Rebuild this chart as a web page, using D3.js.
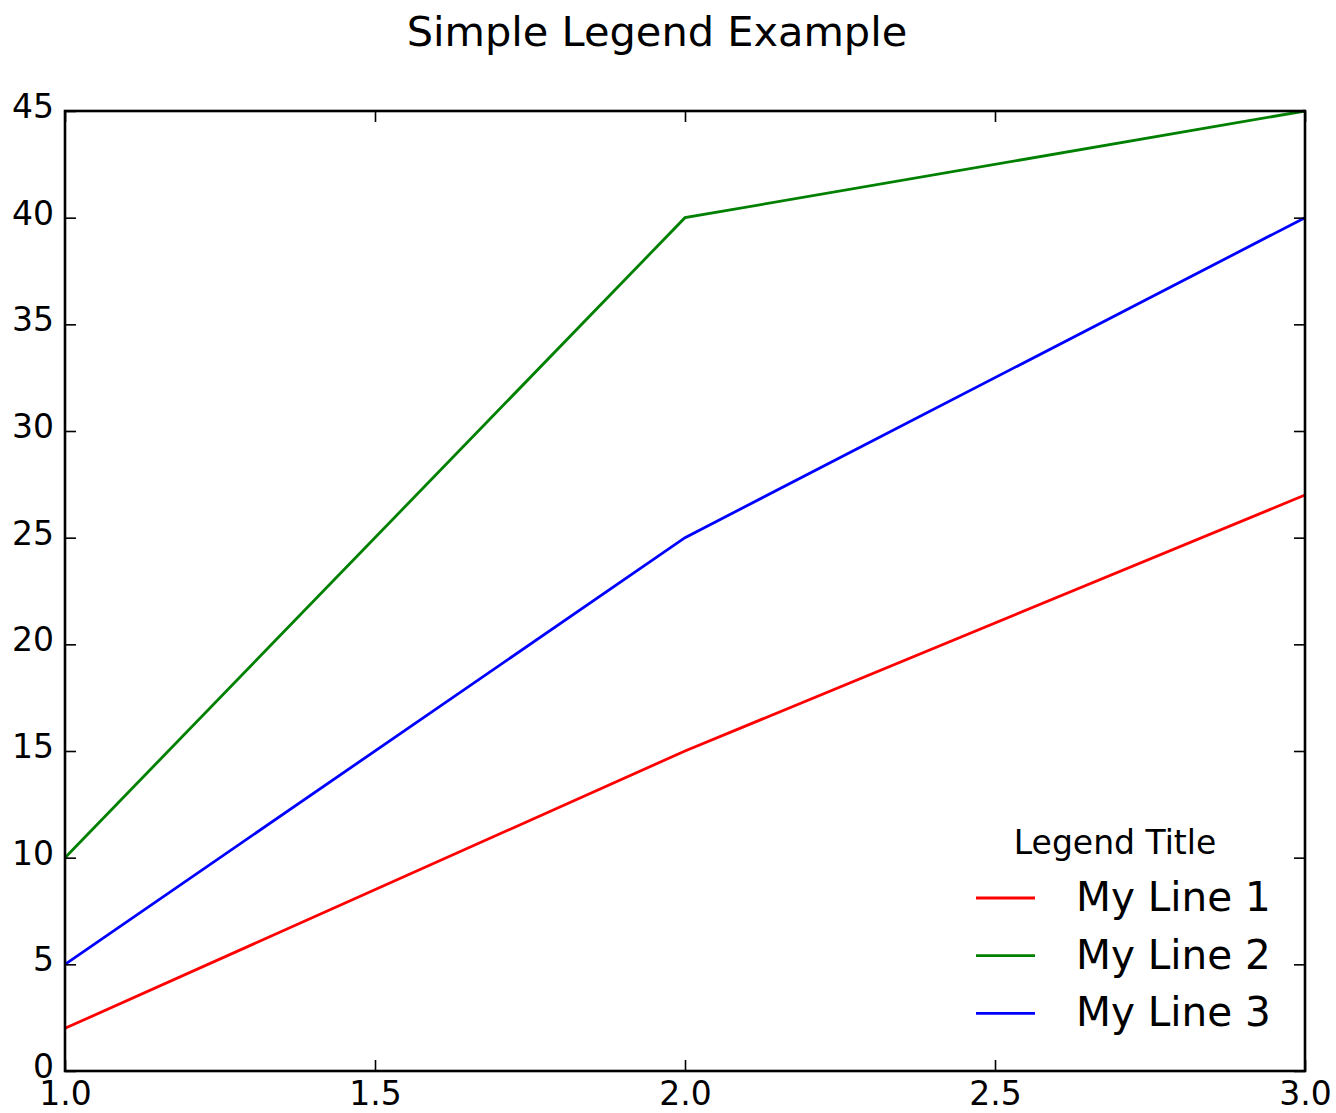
<!DOCTYPE html>
<html>
<head>
<meta charset="utf-8">
<script src="https://cdn.jsdelivr.net/npm/d3@7"></script>
<style>
  html, body { margin: 0; padding: 0; background: #ffffff; }
  svg { display: block; font-family: "DejaVu Sans", sans-serif; }
</style>
</head>
<body>
<svg id="chart" width="1336" height="1113"></svg>
<script>
// Series data
const xValues = [1, 2, 3];
const seriesNames = ["My Line 1", "My Line 2", "My Line 3"];
const seriesColors = ["#ff0000", "#008000", "#0000ff"];
const line1 = [2, 15, 27];
const line2 = [10, 40, 45];
const line3 = [5, 25, 40];
const seriesValues = [line1, line2, line3];

// Axis ticks
const xTicks = [1.0, 1.5, 2.0, 2.5, 3.0];
const yTicks = [0, 5, 10, 15, 20, 25, 30, 35, 40, 45];

const titleText = "Simple Legend Example";
const legendTitle = "Legend Title";

const svg = d3.select("#chart");
const plot = { left: 65, right: 1305, top: 111, bottom: 1071 };

const x = d3.scaleLinear().domain([1, 3]).range([plot.left, plot.right]);
const y = d3.scaleLinear().domain([0, 45]).range([plot.bottom, plot.top]);

const tickLen = 11;
const lw = 2.8;

// Title
svg.append("text")
  .attr("x", 657).attr("y", 46)
  .attr("text-anchor", "middle")
  .attr("font-size", 41.5)
  .attr("fill", "#000")
  .text(titleText);

// Series lines
const lineGen = d3.line().x((d, i) => x(xValues[i])).y(d => y(d));
seriesValues.forEach((vals, k) => {
  svg.append("path")
    .datum(vals)
    .attr("d", lineGen)
    .attr("fill", "none")
    .attr("stroke", seriesColors[k])
    .attr("stroke-width", lw)
    .attr("stroke-linejoin", "miter");
});

// Axes with inward ticks on all four sides
function styleAxis(g) {
  g.select(".domain").remove();
  g.selectAll(".tick line").attr("stroke", "#000").attr("stroke-width", 1.6);
  g.selectAll(".tick text").attr("fill", "#000").attr("font-size", 33);
  g.attr("font-family", null);
}

svg.append("g")
  .attr("transform", `translate(0,${plot.bottom})`)
  .call(d3.axisBottom(x).tickValues(xTicks).tickFormat(d3.format(".1f"))
    .tickSizeInner(-tickLen).tickSizeOuter(0).tickPadding(11))
  .call(styleAxis);

svg.append("g")
  .attr("transform", `translate(0,${plot.top})`)
  .call(d3.axisTop(x).tickValues(xTicks).tickFormat("")
    .tickSizeInner(-tickLen).tickSizeOuter(0))
  .call(styleAxis);

svg.append("g")
  .attr("transform", `translate(${plot.left},0)`)
  .call(d3.axisLeft(y).tickValues(yTicks).tickFormat(d3.format("d"))
    .tickSizeInner(-tickLen).tickSizeOuter(0).tickPadding(11))
  .call(styleAxis)
  .call(g => g.selectAll(".tick text").attr("dy", "0.2em"));

svg.append("g")
  .attr("transform", `translate(${plot.right},0)`)
  .call(d3.axisRight(y).tickValues(yTicks).tickFormat("")
    .tickSizeInner(-tickLen).tickSizeOuter(0))
  .call(styleAxis);

// Frame
svg.append("rect")
  .attr("x", plot.left).attr("y", plot.top)
  .attr("width", plot.right - plot.left)
  .attr("height", plot.bottom - plot.top)
  .attr("fill", "none")
  .attr("stroke", "#000")
  .attr("stroke-width", 2.6);

// Legend (no frame)
const legend = svg.append("g").attr("transform", "translate(976,0)");
legend.append("text")
  .attr("x", 139).attr("y", 854)
  .attr("text-anchor", "middle")
  .attr("font-size", 33)
  .attr("fill", "#000")
  .text(legendTitle);

const rowY0 = 898, rowStep = 57.7;
seriesNames.forEach((name, k) => {
  const ry = rowY0 + k * rowStep;
  legend.append("line")
    .attr("x1", 0).attr("x2", 59)
    .attr("y1", ry).attr("y2", ry)
    .attr("stroke", seriesColors[k])
    .attr("stroke-width", lw);
  legend.append("text")
    .attr("x", 100).attr("y", ry + 13)
    .attr("font-size", 40.5)
    .attr("fill", "#000")
    .text(name);
});
</script>
</body>
</html>
